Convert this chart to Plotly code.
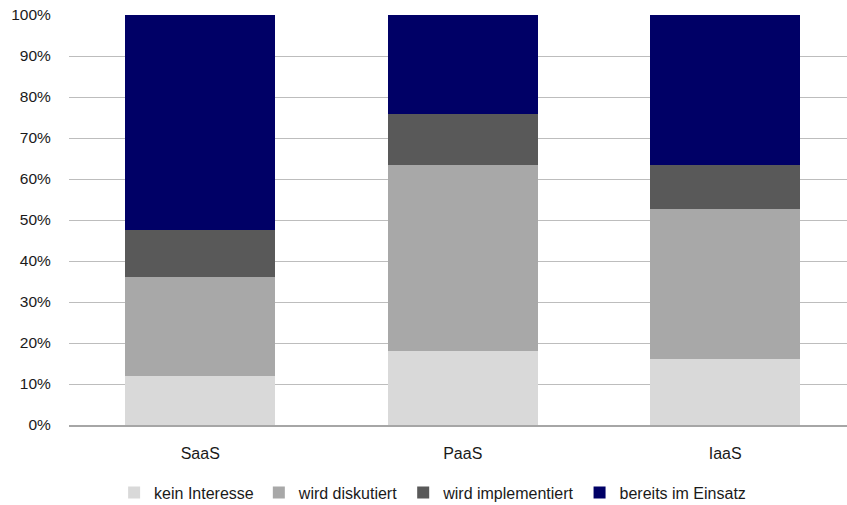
import plotly.graph_objects as go

# Cloud service models and adoption status (share of respondents, %)
categories = ["SaaS", "PaaS", "IaaS"]
kein_interesse = [12.0, 18.0, 16.0]
wird_diskutiert = [24.0, 45.5, 36.8]
wird_implementiert = [11.5, 12.3, 10.5]
bereits_im_einsatz = [52.5, 24.2, 36.7]

series_names = ["kein Interesse", "wird diskutiert", "wird implementiert", "bereits im Einsatz"]
series_values = [kein_interesse, wird_diskutiert, wird_implementiert, bereits_im_einsatz]
series_colors = ["#d9d9d9", "#a8a8a8", "#595959", "#000066"]

y_ticks = list(range(0, 101, 10))
y_tick_labels = [f"{v}%" for v in y_ticks]

FONT = "Liberation Sans, Arial, sans-serif"
TEXT = "#1a1a1a"

fig = go.Figure()
for name, vals, col in zip(series_names, series_values, series_colors):
    fig.add_trace(go.Bar(
        x=categories, y=vals, name=name,
        marker=dict(color=col, line=dict(width=0)),
        hoverinfo="x+y+name",
    ))

fig.update_layout(
    width=847, height=505,
    margin=dict(l=69, r=0, t=15, b=80, autoexpand=False),
    barmode="stack",
    bargap=0.429,
    paper_bgcolor="white",
    plot_bgcolor="white",
    font=dict(family=FONT, size=16, color=TEXT),
    showlegend=True,
    legend=dict(
        orientation="h",
        traceorder="normal",
        x=0.058, xanchor="left",
        y=-0.165, yanchor="middle",
        font=dict(family=FONT, size=16, color=TEXT),
        itemwidth=30,
        bgcolor="rgba(0,0,0,0)",
    ),
    xaxis=dict(
        range=[-0.5, 2.464],
        showgrid=False,
        zeroline=False,
        showline=True, linecolor="#a6a6a6", linewidth=2,
        ticks="outside", ticklen=13, tickcolor="rgba(0,0,0,0)",
        tickfont=dict(family=FONT, size=16, color=TEXT),
        fixedrange=True,
    ),
    yaxis=dict(
        range=[0, 100],
        tickvals=y_ticks, ticktext=y_tick_labels,
        showgrid=True, gridcolor="#bdbdbd", gridwidth=1,
        zeroline=False,
        showline=False,
        ticks="outside", ticklen=14, tickcolor="rgba(0,0,0,0)",
        tickfont=dict(family=FONT, size=15.5, color=TEXT),
        fixedrange=True,
    ),
)

fig.write_html("out.html")
